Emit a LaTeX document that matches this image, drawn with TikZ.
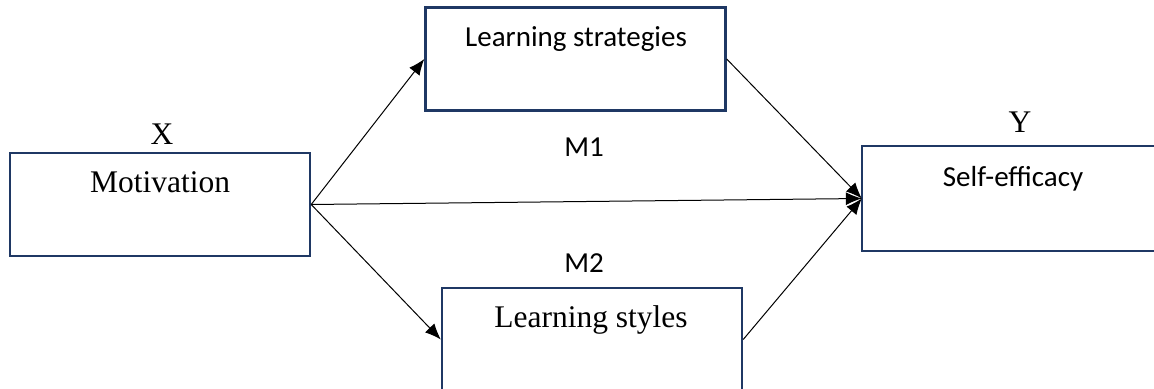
\documentclass[tikz,border=0pt]{standalone}
\usepackage{fontspec}
\usepackage{tikz}
\usetikzlibrary{arrows.meta,positioning}
\newfontfamily\timesfont{Liberation Serif}
\newfontfamily\calibrifont{Carlito}
\definecolor{boxblue}{RGB}{31,56,100}

\begin{document}
\begin{tikzpicture}[
  x=0.5pt,
  y=-0.5pt,
  box/.style={draw=boxblue,line width=1.2pt,minimum width=150pt,minimum height=51.5pt,inner sep=0pt},
  openbox/.style={box,draw=none},
  timestext/.style={font=\timesfont\fontsize{15.75}{18}\selectfont,anchor=base,inner sep=0pt},
  calitext/.style={font=\calibrifont\fontsize{14.5}{17}\selectfont,anchor=base,inner sep=0pt},
  link/.style={-{Latex[length=8pt,width=6.5pt]},line width=0.5pt}
]
\useasboundingbox (0,0) rectangle (1154,389);

% boxes
\node[box] (mot) at (160,204.5) {};
\node[box] (strat) at (575.5,59) {};
\node[openbox,minimum width=170pt] (eff) at (1033,198.5) {};
\node[box] (styl) at (592,339.5) {};

% self-efficacy box runs off the right edge
\draw[boxblue,line width=1.2pt] (eff.north east) -| (eff.south west) -- (eff.south east);

% texts
\node[timestext] (xlab) at (162,145) {X};
\node[timestext] (mottext) at (160,193) {Motivation};
\node[calitext] (strattext) at (576,47) {Learning strategies};
\node[calitext] (m1lab) at (584,157) {M1};
\node[timestext] (ylab) at (1020,133) {Y};
\node[calitext] (efftext) at (1013,187) {Self-efficacy};
\node[calitext] (m2lab) at (584,273) {M2};
\node[timestext] (styltext) at (591,328) {Learning styles};

% paths
\draw[link] (mot.east) -- (strat.west);
\draw[link] (mot.east) -- (styl.west);
\draw[link] (mot.east) -- (eff.west);
\draw[link] (strat.east) -- (eff.west);
\draw[link] (styl.east) -- (eff.west);
\end{tikzpicture}
\end{document}
